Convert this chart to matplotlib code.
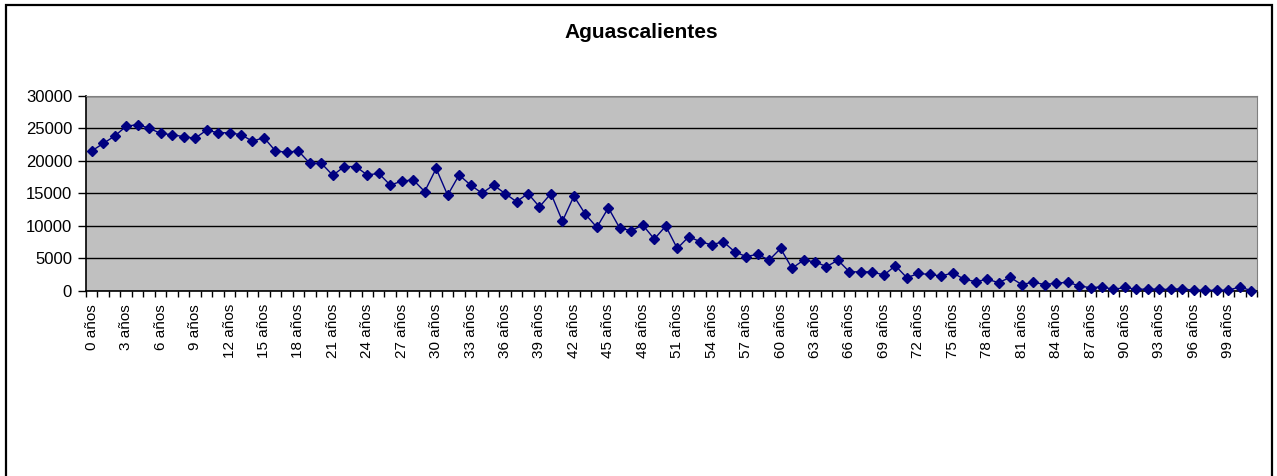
import matplotlib
matplotlib.use("Agg")
import matplotlib.pyplot as plt
from matplotlib.patches import Rectangle
from matplotlib.ticker import FixedLocator, FixedFormatter

plt.rcParams['font.family'] = ['Liberation Sans', 'DejaVu Sans']

title = "Aguascalientes"
ages = list(range(0, 102))
categories = [f"{a} años" for a in ages]
population = [
    21500, 22650, 23800, 25300, 25550, 25000, 24200, 24000, 23700, 23450,
    24700, 24300, 24300, 24000, 23000, 23550, 21500, 21300, 21500, 19600,
    19600, 17750, 19100, 19100, 17800, 18050, 16250, 16850, 17050, 15250,
    18800, 14700, 17800, 16250, 15000, 16250, 14950, 13700, 14950, 12900,
    14950, 10700, 14550, 11750, 9750, 12750, 9600, 9250, 10100, 7950,
    9950, 6500, 8300, 7550, 7050, 7550, 6000, 5250, 5600, 4700,
    6500, 3450, 4700, 4450, 3700, 4700, 2900, 2900, 2900, 2400,
    3850, 2000, 2650, 2500, 2250, 2750, 1750, 1400, 1750, 1250,
    2050, 950, 1300, 950, 1150, 1300, 750, 450, 600, 200,
    500, 200, 250, 200, 200, 300, 50, 50, 50, 50,
    600, 0,
]
yticks = [0, 5000, 10000, 15000, 20000, 25000, 30000]

W, H = 1277, 476
fig = plt.figure(figsize=(W / 100, H / 100), dpi=100)
fig.patch.set_facecolor('white')

# outer chart frame
fig.patches.append(Rectangle((5.5 / W, -0.05), (1271.5 - 5.5) / W, 1.05 - 5.5 / H,
                             transform=fig.transFigure, fill=False,
                             edgecolor='black', linewidth=1.6, zorder=0))

left, right, top, bottom = 86 / W, 1257 / W, 95.7 / H, 290.7 / H
ax = fig.add_axes([left, 1 - bottom, right - left, bottom - top])
ax.set_facecolor('#C0C0C0')

x = list(range(len(categories)))
ax.plot(x, population, color='#000080', linewidth=1.0, marker='D',
        markersize=4.6, markerfacecolor='#000080', markeredgecolor='#000080',
        zorder=3, clip_on=False)

ax.set_xlim(-0.5, len(categories) - 0.5)
ax.set_ylim(0, 30000)

ax.set_yticks(yticks)
ax.set_yticklabels([str(v) for v in yticks], fontsize=12)
ax.yaxis.grid(True, color='black', linewidth=1.0)
ax.set_axisbelow(True)

label_pos = x[::3]
ax.xaxis.set_major_locator(FixedLocator(label_pos))
ax.xaxis.set_major_formatter(FixedFormatter([categories[i] for i in label_pos]))
ax.xaxis.set_minor_locator(FixedLocator([i - 0.5 for i in range(len(categories) + 1)]))
ax.tick_params(axis='x', which='major', length=0, pad=9.5, labelsize=11, labelrotation=90)
ax.tick_params(axis='x', which='minor', length=4, width=1, color='black', direction='out')
ax.tick_params(axis='y', which='major', length=6, width=1, color='black', pad=4)

for lbl in ax.get_xticklabels():
    lbl.set_verticalalignment('top')
    lbl.set_horizontalalignment('center')

ax.spines['left'].set_color('black')
ax.spines['bottom'].set_color('black')
ax.spines['left'].set_linewidth(1.2)
ax.spines['bottom'].set_linewidth(1.2)
ax.spines['top'].set_color('#808080')
ax.spines['right'].set_color('#808080')

fig.text(641 / W, 1 - 33 / H, title, ha='center', va='center',
         fontsize=15, fontweight='bold')

fig.savefig('out.png', dpi=100)
